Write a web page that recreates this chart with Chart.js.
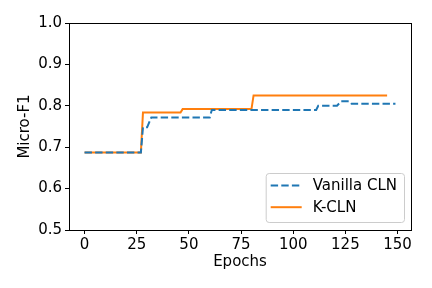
<!DOCTYPE html>
<html>
<head>
<meta charset="utf-8">
<script src="https://cdn.jsdelivr.net/npm/chart.js@4/dist/chart.umd.min.js"></script>
<style>
  html, body { margin: 0; padding: 0; background: #fff; }
  #wrap { width: 432px; height: 288px; }
</style>
</head>
<body>
<div id="wrap"><canvas id="myChart" width="432" height="288"></canvas></div>
<script>
// epochs where the curves change, and the values there
const vanillaEpochs = [0, 27, 28, 30, 32, 60, 61, 111, 112, 121, 123, 127, 128, 149];
const vanillaF1 = [0.687, 0.687, 0.748, 0.748, 0.772, 0.772, 0.790, 0.790, 0.800, 0.800, 0.811, 0.811, 0.805, 0.805];

const kclnEpochs = [0, 27, 28, 46, 47, 80, 81, 145];
const kclnF1 = [0.687, 0.687, 0.784, 0.784, 0.792, 0.792, 0.825, 0.825];

const xTicks = [0, 25, 50, 75, 100, 125, 150];
const yTicks = [0.5, 0.6, 0.7, 0.8, 0.9, 1.0];

const FONT = { family: "'DejaVu Sans', sans-serif", size: 15 };

function toPoints(xs, ys) {
  return xs.map((x, i) => ({ x: x, y: ys[i] }));
}

// full box round the plot + legend inside lower right
const boxAndLegend = {
  id: 'boxAndLegend',
  afterDraw(chart) {
    const ctx = chart.ctx;
    const a = chart.chartArea;
    ctx.save();
    ctx.strokeStyle = '#000';
    ctx.lineWidth = 1;
    ctx.strokeRect(Math.round(a.left) + 0.5, Math.round(a.top) + 0.5,
      Math.round(a.right - a.left), Math.round(a.bottom - a.top));

    ctx.font = FONT.size + 'px ' + FONT.family;
    const sets = chart.data.datasets;
    let tw = 0;
    sets.forEach(ds => { tw = Math.max(tw, ctx.measureText(ds.label).width); });
    const w = 5 + 31 + 11 + tw + 7;
    const h = 49;
    const x0 = a.right - 7 - w;
    const y0 = a.bottom - 8 - h;
    ctx.beginPath();
    ctx.roundRect(x0 + 0.5, y0 + 0.5, w, h, 3);
    ctx.fillStyle = 'rgba(255,255,255,0.8)';
    ctx.fill();
    ctx.strokeStyle = '#cccccc';
    ctx.stroke();

    sets.forEach((ds, i) => {
      const cy = y0 + 12.5 + i * 21.7;
      ctx.beginPath();
      ctx.setLineDash(ds.borderDash || []);
      ctx.strokeStyle = ds.borderColor;
      ctx.lineWidth = ds.borderWidth;
      ctx.moveTo(x0 + 5, cy);
      ctx.lineTo(x0 + 36, cy);
      ctx.stroke();
      ctx.setLineDash([]);
      ctx.fillStyle = '#000';
      ctx.textBaseline = 'middle';
      ctx.fillText(ds.label, x0 + 47, cy + 1);
    });
    ctx.restore();
  }
};

const ctx = document.getElementById('myChart').getContext('2d');

const myChart = new Chart(ctx, {
  type: 'line',
  data: {
    datasets: [
      {
        label: 'Vanilla CLN',
        data: toPoints(vanillaEpochs, vanillaF1),
        borderColor: '#1f77b4',
        borderWidth: 2,
        borderDash: [7.4, 3.2],
        pointRadius: 0,
        fill: false,
        tension: 0
      },
      {
        label: 'K-CLN',
        data: toPoints(kclnEpochs, kclnF1),
        borderColor: '#ff7f0e',
        borderWidth: 2,
        pointRadius: 0,
        fill: false,
        tension: 0
      }
    ]
  },
  options: {
    responsive: false,
    animation: false,
    layout: { padding: { top: 23, right: 21, left: 0, bottom: 0 } },
    plugins: {
      legend: { display: false },
      tooltip: { enabled: false }
    },
    scales: {
      x: {
        type: 'linear',
        min: -7.45,
        max: 156.45,
        afterBuildTicks: s => { s.ticks = xTicks.map(v => ({ value: v })); },
        afterFit: s => { s.height = 58; },
        grid: { drawOnChartArea: false, drawTicks: true, tickLength: 4, color: '#000' },
        border: { display: true, color: '#000' },
        ticks: { color: '#000', font: FONT, padding: 2, maxRotation: 0 },
        title: { display: true, text: 'Epochs', color: '#000', font: FONT, padding: { top: 0, bottom: 17 } }
      },
      y: {
        type: 'linear',
        min: 0.5,
        max: 1.0,
        afterBuildTicks: s => { s.ticks = yTicks.map(v => ({ value: v })); },
        afterFit: s => { s.width = 69; },
        grid: { drawOnChartArea: false, drawTicks: true, tickLength: 4, color: '#000' },
        border: { display: true, color: '#000' },
        ticks: { color: '#000', font: FONT, padding: 3, callback: v => v.toFixed(1) },
        title: { display: true, text: 'Micro-F1', color: '#000', font: FONT, padding: { top: 16, bottom: 0 } }
      }
    }
  },
  plugins: [boxAndLegend]
});
</script>
</body>
</html>
